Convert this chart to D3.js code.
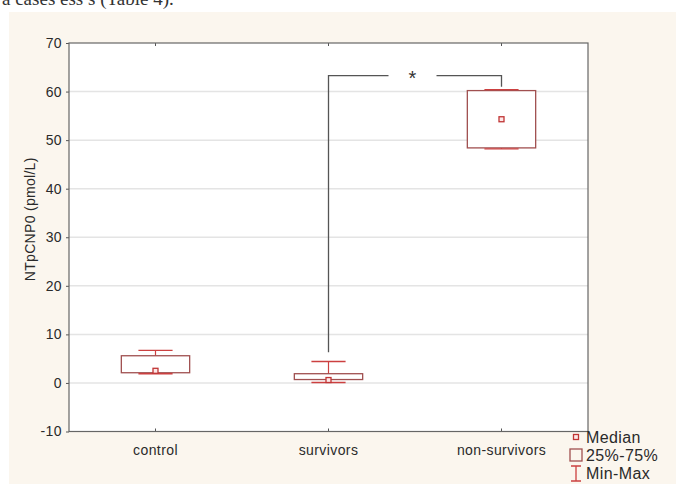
<!DOCTYPE html>
<html>
<head>
<meta charset="utf-8">
<script src="https://cdn.jsdelivr.net/npm/d3@7"></script>
<style>
  body { margin: 0; background: #fff; }
  svg { display: block; }
</style>
</head>
<body>
<div id="chart"></div>
<script>
// Box plot values
const categories = ["control", "survivors", "non-survivors"];
const minVals = [1.9, 0.1, 48.2];
const q1Vals = [2.1, 0.7, 48.4];
const medianVals = [2.5, 0.6, 54.3];
const q3Vals = [5.6, 1.9, 60.2];
const maxVals = [6.7, 4.4, 60.4];
const yTicks = [-10, 0, 10, 20, 30, 40, 50, 60, 70];

// significance bracket: survivors vs non-survivors
const bracketPair = [1, 2];
const bracketTop = 63.3;
const bracketEnds = [6.3, 61.0];
const legendLabels = ["Median", "25%-75%", "Min-Max"];

const W = 676, H = 484;
const margin = { top: 43, right: 88, bottom: 52.5, left: 69 };
const width = W - margin.left - margin.right;
const height = H - margin.top - margin.bottom;

const boxStroke = "#a05050";
const redStroke = "#cc4040";
const font = "Liberation Sans, Arial, sans-serif";
const textCol = "#2a2a2a";

const svg = d3.select("#chart").append("svg")
  .attr("width", W).attr("height", H);

// cut-off line of the surrounding page text
svg.append("text")
  .attr("x", 2).attr("y", 5)
  .attr("font-family", "Liberation Serif, serif")
  .attr("font-size", 19)
  .attr("fill", "#333")
  .text("a cases ess s (Table 4).");

// beige panel behind the chart
svg.append("rect")
  .attr("x", 9).attr("y", 12)
  .attr("width", W - 9).attr("height", H - 12)
  .attr("fill", "#fbf6ee");

const g = svg.append("g")
  .attr("transform", `translate(${margin.left},${margin.top})`);

const x = d3.scaleBand().domain(categories).range([0, width]).padding(0);
const y = d3.scaleLinear().domain([-10, 70]).range([height, 0]);

g.append("rect")
  .attr("width", width).attr("height", height)
  .attr("fill", "#fff");

// grid lines
g.selectAll(".grid").data(yTicks.slice(1, -1)).join("line")
  .attr("x1", 0).attr("x2", width)
  .attr("y1", d => y(d)).attr("y2", d => y(d))
  .attr("stroke", "#e4e4e4").attr("stroke-width", 1.5);

// axes
const yAxis = g.append("g")
  .call(d3.axisLeft(y).tickValues(yTicks).tickSize(3).tickPadding(4)
    .tickFormat(d => String(d)));
const xAxis = g.append("g")
  .attr("transform", `translate(0,${height})`)
  .call(d3.axisBottom(x).tickSize(-3).tickPadding(14));
const xTop = g.append("g")
  .call(d3.axisTop(x).tickSize(-3).tickFormat(""));

[yAxis, xAxis, xTop].forEach(a => {
  a.select(".domain").remove();
  a.selectAll("line").attr("stroke", "#555");
  a.selectAll("text")
    .attr("font-family", font).attr("font-size", 14)
    .attr("letter-spacing", 0.4).attr("fill", textCol);
});

// frame
g.append("rect")
  .attr("width", width).attr("height", height)
  .attr("fill", "none").attr("stroke", "#666").attr("stroke-width", 1.2);

// boxes
const boxW = x.bandwidth() * 0.395;
const capW = boxW * 0.5;
const data = categories.map((c, i) => ({
  c, min: minVals[i], q1: q1Vals[i], med: medianVals[i], q3: q3Vals[i], max: maxVals[i]
}));

const boxes = g.selectAll(".box").data(data).join("g")
  .attr("transform", d => `translate(${x(d.c) + x.bandwidth() / 2},0)`);

boxes.append("line")
  .attr("y1", d => y(d.q3)).attr("y2", d => y(d.max))
  .attr("stroke", redStroke).attr("stroke-width", 1.2);
boxes.append("line")
  .attr("y1", d => y(d.q1)).attr("y2", d => y(d.min))
  .attr("stroke", redStroke).attr("stroke-width", 1.2);

boxes.append("rect")
  .attr("x", -boxW / 2).attr("width", boxW)
  .attr("y", d => y(d.q3)).attr("height", d => y(d.q1) - y(d.q3))
  .attr("fill", "#fff").attr("stroke", boxStroke).attr("stroke-width", 1.3);

["max", "min"].forEach(k => {
  boxes.append("line")
    .attr("x1", -capW / 2).attr("x2", capW / 2)
    .attr("y1", d => y(d[k])).attr("y2", d => y(d[k]))
    .attr("stroke", redStroke).attr("stroke-width", 1.4);
});

boxes.append("rect")
  .attr("x", -2.5).attr("y", d => y(d.med) - 2.5)
  .attr("width", 5).attr("height", 5)
  .attr("fill", "#fde8e8").attr("stroke", "#c03535").attr("stroke-width", 1.3);

// significance bracket
const bx1 = x(categories[bracketPair[0]]) + x.bandwidth() / 2;
const bx2 = x(categories[bracketPair[1]]) + x.bandwidth() / 2;
const by = y(bracketTop);
const starX = (bx1 + bx2) / 2 - 0.5;
const bracket = g.append("g")
  .attr("fill", "none").attr("stroke", "#555").attr("stroke-width", 1.3);
bracket.append("path")
  .attr("d", `M${bx1},${y(bracketEnds[0])}V${by}H${starX - 26}`);
bracket.append("path")
  .attr("d", `M${starX + 22},${by}H${bx2}V${y(bracketEnds[1])}`);
g.append("text")
  .attr("x", starX - 2).attr("y", by + 9)
  .attr("text-anchor", "middle")
  .attr("font-family", font).attr("font-size", 20).attr("fill", "#333")
  .text("*");

// y label
svg.append("text")
  .attr("transform", `translate(35,${margin.top + height / 2 - 18}) rotate(-90)`)
  .attr("text-anchor", "middle")
  .attr("font-family", font).attr("font-size", 14)
  .attr("letter-spacing", 0.3).attr("fill", textCol)
  .text("NTpCNP0 (pmol/L)");

// legend
const lg = svg.append("g").attr("transform", "translate(576,437)");
lg.append("rect").attr("x", -2.5).attr("y", -2.5).attr("width", 5).attr("height", 5)
  .attr("fill", "#fde8e8").attr("stroke", "#c03535").attr("stroke-width", 1.3);
lg.append("rect").attr("x", -6).attr("y", 12).attr("width", 12).attr("height", 12)
  .attr("fill", "none").attr("stroke", boxStroke).attr("stroke-width", 1.3);
lg.append("path").attr("d", "M-5,29H5M0,29V44M-5,44H5")
  .attr("fill", "none").attr("stroke", redStroke).attr("stroke-width", 1.3);
lg.selectAll(".lt").data(legendLabels).join("text")
  .attr("x", 10).attr("y", (d, i) => 6 + i * 18)
  .attr("font-family", font).attr("font-size", 16)
  .attr("letter-spacing", 0.4).attr("fill", textCol)
  .text(d => d);
</script>
</body>
</html>
